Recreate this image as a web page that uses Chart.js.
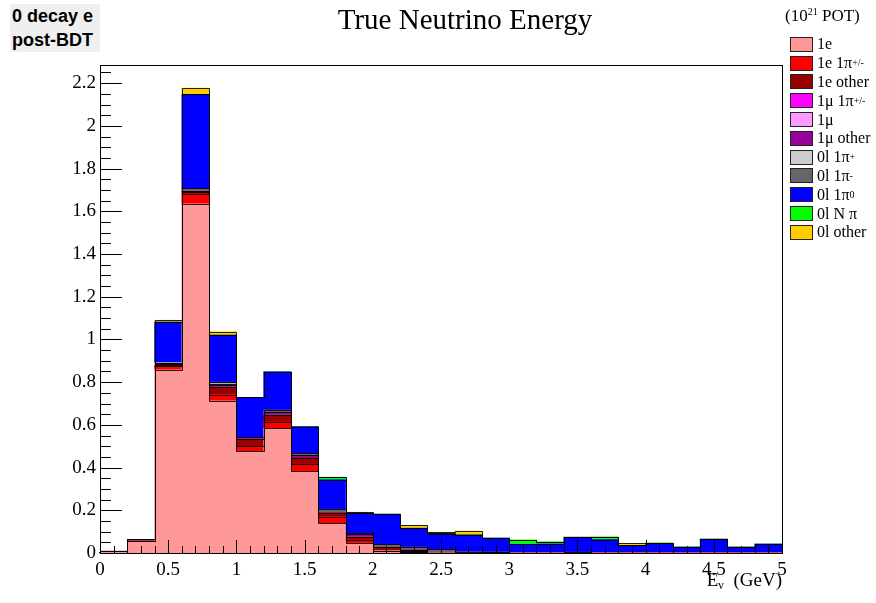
<!DOCTYPE html>
<html>
<head>
<meta charset="utf-8">
<script src="https://cdn.jsdelivr.net/npm/chart.js@4"></script>
<style>
  body { margin: 0; background: #fff; }
  #wrap { position: relative; width: 876px; height: 603px; font-family: 'Liberation Serif', serif; }
  #tag { position: absolute; left: 10px; top: 4px; width: 90px; height: 48px; background: #efefef;
         font: bold 18px 'Liberation Sans', sans-serif; line-height: 24px; padding-left: 2px; box-sizing: border-box; }
  #title { position: absolute; left: 0; width: 930px; top: 5px; text-align: center; font-size: 29px; line-height: 29px; }
  #legend { position: absolute; left: 786px; top: 4px; font-size: 16px; }
  #legend .hdr { height: 31px; line-height: 24px; font-size: 17px; margin-left: -1px; }
  #legend .row { height: 18.8px; display: flex; align-items: center; }
  #legend .box { width: 21px; height: 13px; border: 1px solid #222; margin: 0 4px 0 4px; }
  #legend sup { font-size: 10px; vertical-align: 6px; line-height: 0; }
  #xlab { position: absolute; right: 94px; top: 569px; font-size: 19px; line-height: 22px; }
  #xlab sub { font-size: 12px; vertical-align: -3px; line-height: 0; margin-right: 5px; }
</style>
</head>
<body>
<div id="wrap">
  <canvas id="c" width="876" height="603"></canvas>
  <div id="tag">0 decay e<br>post-BDT</div>
  <div id="title">True Neutrino Energy</div>
  <div id="legend"></div>
  <div id="xlab">E<sub>ν</sub> (GeV)</div>
</div>
<script>
// bin edges 0 .. 5 GeV, 0.2 GeV wide
const binEdges = Array.from({ length: 26 }, (_, i) => +(i * 0.2).toFixed(1));
const binCenters = binEdges.slice(0, 25).map(e => +(e + 0.1).toFixed(2));

// labelled ticks
const xTickValues = [0, 0.5, 1, 1.5, 2, 2.5, 3, 3.5, 4, 4.5, 5];
const yTickValues = [0, 0.2, 0.4, 0.6, 0.8, 1, 1.2, 1.4, 1.6, 1.8, 2, 2.2];

// stacked contributions per bin (10^21 POT), bottom to top
const e1      = [0.008, 0.055, 0.858, 1.635, 0.712, 0.476, 0.584, 0.382, 0.139, 0.045, 0.011, 0.004, 0, 0, 0, 0, 0, 0, 0, 0, 0, 0, 0, 0, 0];
const e1pi    = [0, 0, 0.017, 0.046, 0.030, 0.023, 0.030, 0.034, 0.031, 0.017, 0, 0, 0, 0, 0, 0, 0, 0, 0, 0, 0, 0, 0, 0, 0];
const e1other = [0, 0.002, 0.003, 0.010, 0.036, 0.036, 0.032, 0.031, 0.019, 0.013, 0.016, 0.004, 0, 0, 0, 0, 0, 0, 0, 0, 0, 0, 0, 0, 0];
const mu1pi   = [0, 0, 0, 0, 0, 0, 0, 0, 0, 0, 0, 0, 0, 0, 0, 0, 0, 0, 0, 0, 0, 0, 0, 0, 0];
const mu1     = [0, 0, 0.008, 0, 0, 0, 0, 0, 0, 0, 0, 0, 0, 0, 0, 0, 0, 0, 0, 0, 0, 0, 0, 0, 0];
const mu1other= [0, 0, 0, 0.005, 0.010, 0, 0.012, 0.010, 0, 0.013, 0, 0.008, 0, 0, 0, 0, 0, 0, 0, 0, 0, 0, 0, 0, 0];
const l0piP   = [0, 0, 0.005, 0, 0.005, 0, 0, 0, 0, 0, 0, 0, 0, 0, 0.003, 0, 0, 0, 0, 0, 0, 0, 0, 0, 0];
const l0piM   = [0, 0.007, 0, 0.011, 0.007, 0.006, 0.012, 0.009, 0.016, 0.004, 0.014, 0.012, 0.017, 0.006, 0.002, 0, 0, 0.004, 0, 0, 0, 0, 0, 0, 0];
const l0pi0   = [0, 0, 0.190, 0.440, 0.220, 0.188, 0.178, 0.126, 0.138, 0.094, 0.141, 0.088, 0.071, 0.079, 0.065, 0.040, 0.042, 0.070, 0.063, 0.036, 0.045, 0.028, 0.065, 0.028, 0.042];
const l0Npi   = [0, 0, 0, 0, 0, 0, 0, 0, 0.012, 0, 0, 0, 0.004, 0, 0, 0.021, 0.010, 0, 0.012, 0, 0.002, 0, 0, 0, 0];
const l0other = [0, 0, 0.009, 0.030, 0.016, 0, 0, 0, 0, 0.005, 0, 0.014, 0.005, 0.018, 0, 0, 0, 0, 0, 0.009, 0, 0, 0, 0, 0];

const seriesNames  = ['1e', '1e 1π<sup>+/-</sup>', '1e other', '1μ 1π<sup>+/-</sup>', '1μ', '1μ other',
                      '0l 1π<sup>+</sup>', '0l 1π<sup>-</sup>', '0l 1π<sup>0</sup>', '0l N π', '0l other'];
const seriesValues = [e1, e1pi, e1other, mu1pi, mu1, mu1other, l0piP, l0piM, l0pi0, l0Npi, l0other];
const seriesColors = ['#ff9999', '#ff0000', '#990000', '#ff00ff', '#ff99ff', '#990099',
                      '#cccccc', '#666666', '#0000ff', '#00ff00', '#ffcc00'];

const yMax = 2.285;

// legend in html so superscripts stay real text
const leg = document.getElementById('legend');
leg.innerHTML = '<div class="hdr">(10<sup>21</sup> POT)</div>' +
  seriesNames.map((n, i) => `<div class="row"><div class="box" style="background:${seriesColors[i]}"></div>${n}</div>`).join('');

const fmt = v => String(+v.toFixed(2));

// ROOT style: step outline for every stacked histogram, ticks inside the frame
const rootStyle = {
  id: 'rootStyle',
  afterDatasetsDraw(chart) {
    const { ctx, chartArea: a } = chart;
    const xs = chart.scales.x, ys = chart.scales.y;
    ctx.save();
    ctx.lineWidth = 1;
    ctx.strokeStyle = 'rgba(0,0,0,0.85)';
    let cum = new Array(25).fill(0);
    seriesValues.forEach(vals => {
      cum = cum.map((c, i) => c + vals[i]);
      ctx.beginPath();
      ctx.moveTo(xs.getPixelForValue(0), ys.getPixelForValue(0));
      cum.forEach((c, i) => {
        const y = Math.round(ys.getPixelForValue(c)) + 0.5;
        ctx.lineTo(Math.round(xs.getPixelForValue(binEdges[i])) + 0.5, y);
        ctx.lineTo(Math.round(xs.getPixelForValue(binEdges[i + 1])) + 0.5, y);
      });
      ctx.stroke();
    });

    ctx.strokeStyle = '#000';
    ctx.beginPath();
    for (let k = 0; k * 0.05 <= yMax; k++) {
      const y = Math.round(ys.getPixelForValue(k * 0.05)) + 0.5;
      ctx.moveTo(a.left, y);
      ctx.lineTo(a.left + (k % 4 === 0 ? 22 : 11), y);
    }
    for (let k = 0; k <= 50; k++) {
      const x = Math.round(xs.getPixelForValue(k * 0.1)) + 0.5;
      ctx.moveTo(x, a.bottom);
      ctx.lineTo(x, a.bottom - (k % 5 === 0 ? 13 : 7));
    }
    ctx.stroke();
    ctx.strokeRect(Math.round(a.left) + 0.5, Math.round(a.top) + 0.5,
                   Math.round(a.right - a.left), Math.round(a.bottom - a.top));
    ctx.restore();
  }
};

new Chart(document.getElementById('c'), {
  type: 'bar',
  data: {
    datasets: seriesValues.map((vals, i) => ({
      label: seriesNames[i],
      data: binCenters.map((x, j) => ({ x: x, y: vals[j] })),
      backgroundColor: seriesColors[i],
      borderWidth: 0,
      barPercentage: 1,
      categoryPercentage: 1
    }))
  },
  options: {
    responsive: false,
    animation: false,
    devicePixelRatio: 1,
    layout: { padding: { top: 65, right: 94, left: 0, bottom: 0 } },
    plugins: { legend: { display: false }, tooltip: { enabled: false } },
    scales: {
      x: {
        type: 'linear', stacked: true, offset: false, min: 0, max: 5,
        grid: { display: false, drawTicks: false, tickLength: 0 }, border: { display: false },
        ticks: { padding: 6, color: '#000', maxRotation: 0, autoSkip: false,
                 font: { family: 'Liberation Serif', size: 19 }, callback: fmt },
        afterBuildTicks: s => { s.ticks = xTickValues.map(v => ({ value: v })); },
        afterFit: s => { s.height = 50; }
      },
      y: {
        stacked: true, min: 0, max: yMax,
        grid: { display: false, drawTicks: false, tickLength: 0 }, border: { display: false },
        ticks: { padding: 4, color: '#000', autoSkip: false,
                 font: { family: 'Liberation Serif', size: 19 }, callback: fmt },
        afterBuildTicks: s => { s.ticks = yTickValues.map(v => ({ value: v })); },
        afterFit: s => { s.width = 100; }
      }
    }
  },
  plugins: [rootStyle]
});
</script>
</body>
</html>
